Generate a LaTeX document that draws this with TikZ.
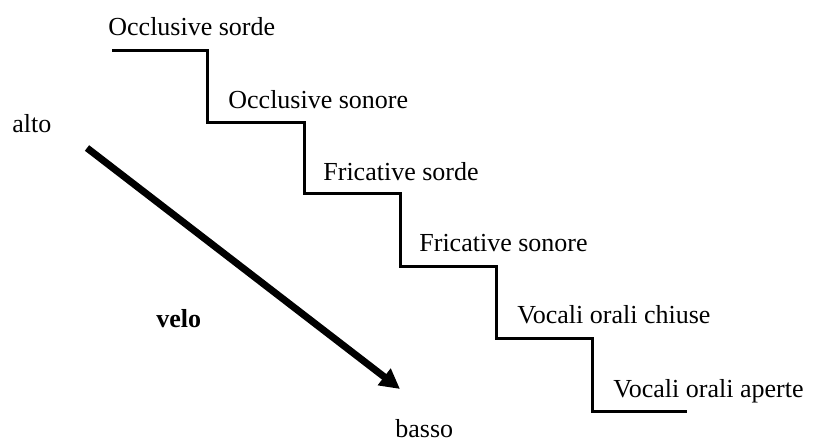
\documentclass[tikz,border=0pt]{standalone}
\usepackage{fontspec}
\setmainfont{Liberation Serif}
\usetikzlibrary{arrows.meta}

\begin{document}
\begin{tikzpicture}[x=0.5pt,y=-0.5pt,
    steptext/.style={anchor=base west,inner sep=0pt,font=\fontsize{13}{15}\selectfont},
    stairs/.style={line width=1.5pt,line join=miter}]
  \useasboundingbox (0,0) rectangle (813,448);
  % the stairs
  \draw[stairs] (112,51) -- (207,51) -- (207,123) -- (304,123) -- (304,194)
    -- (400,194) -- (400,267) -- (496,267) -- (496,339) -- (592,339)
    -- (592,411) -- (687,411);
  \foreach \name/\x/\y/\txt in {ocsorde/108/36/Occlusive sorde,
      ocsonore/228/109/Occlusive sonore, frsorde/323/181/Fricative sorde,
      frsonore/419/252/Fricative sonore, vochiuse/517/324/Vocali orali chiuse,
      voaperte/613/397/Vocali orali aperte}
    \node[steptext] (\name) at (\x,\y) {\txt};
  % velum
  \node[steptext] (alto) at (12,133) {alto};
  \node[steptext] (basso) at (395,437) {basso};
  \node[steptext,font=\fontsize{13}{15}\selectfont\bfseries] (velo) at (156,328) {velo};
  \coordinate (high) at (87,148);
  \coordinate (low) at (400,389);
  \draw[line width=3.5pt,-{Triangle[length=10pt,width=10pt]}] (high) -- (low);
\end{tikzpicture}
\end{document}
